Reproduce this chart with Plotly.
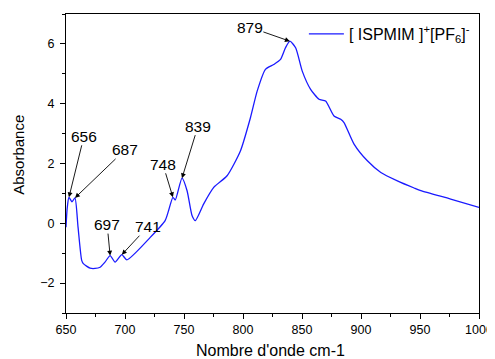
import plotly.graph_objects as go

wavenumber = [650, 651, 652.5, 655.1, 657.6, 660.2, 663.3, 664.7, 670.4, 674.6, 678.9, 683.0,
              687.4, 691.6, 697.3, 701.6, 721.4, 734.0, 736.9, 740.6, 742.6, 748.3, 752.6,
              756.8, 759.6, 766.7, 775.2, 786.5, 797.8, 806.3, 812.0, 819.0, 826.0, 831.8,
              836.0, 839.7, 844.6, 850.2, 857.3, 864.4, 870.0, 877.1, 882.8, 885.6, 894.1,
              905.4, 916.8, 930.8, 945.0, 950.7, 976.0, 1000.0]
absorbance = [-0.13, 0.5, 0.87, 0.72, 0.85, -0.13, -1.24, -1.35, -1.5, -1.51, -1.47, -1.3,
              -1.08, -1.3, -1.05, -1.22, -0.47, 0.09, 0.42, 0.87, 0.78, 1.51, 1.09,
              0.26, 0.09, 0.65, 1.2, 1.59, 2.42, 3.53, 4.42, 5.15, 5.31, 5.48,
              5.87, 6.09, 5.87, 5.09, 4.48, 4.15, 4.09, 3.59, 3.48, 3.37, 2.65,
              2.09, 1.7, 1.42, 1.18, 1.09, 0.81, 0.53]

series_name = "[ ISPMIM ]<sup>+</sup>[PF<sub>6</sub>]<sup>-</sup>"
x_title = "Nombre d'onde cm-1"
y_title = "Absorbance"

peak_labels = ["656", "687", "697", "741", "748", "839", "879"]
peak_x = [652.5, 657.6, 687.4, 697.3, 740.6, 748.3, 839.7]
peak_y = [0.87, 0.85, -1.08, -1.05, 0.87, 1.51, 6.09]
label_dx = [15, 50, -3, 26, -10, 16, -40]
label_dy = [-61, -48, -31, -28, -33, -52, -14]

font_family = "Arial, Liberation Sans, sans-serif"

fig = go.Figure()
fig.add_trace(go.Scatter(
    x=wavenumber, y=absorbance, mode="lines", name=series_name,
    line=dict(color="#1a1aff", width=1.3, shape="spline", smoothing=0.6),
))

for lab, px, py, dx, dy in zip(peak_labels, peak_x, peak_y, label_dx, label_dy):
    fig.add_annotation(
        x=px, y=py, text=lab, showarrow=True, ax=dx, ay=dy,
        arrowhead=2, arrowsize=1.1, arrowwidth=0.9, arrowcolor="black",
        font=dict(size=15.5, color="black", family=font_family),
        borderpad=0,
    )

fig.add_annotation(x=0.496, y=-0.124, xref="paper", yref="paper", text=x_title,
                   showarrow=False, xanchor="center", yanchor="middle",
                   font=dict(size=16, color="black", family=font_family))
fig.add_annotation(x=-0.117, y=0.528, xref="paper", yref="paper", text=y_title,
                   showarrow=False, xanchor="center", yanchor="middle", textangle=-90,
                   font=dict(size=15, color="black", family=font_family))

# page body has an 8px margin, so the figure is offset by 8px
fig.update_layout(
    width=487, height=351,
    margin=dict(l=58, r=16, t=6, b=46, autoexpand=False),
    paper_bgcolor="white", plot_bgcolor="white",
    font=dict(family=font_family, color="black", size=12.5),
    showlegend=True,
    legend=dict(x=0.576, y=0.99, xanchor="left", yanchor="top",
                bgcolor="rgba(0,0,0,0)", font=dict(size=16),
                itemwidth=35),
    xaxis=dict(
        range=[650, 1000], tick0=650, dtick=50, ticks="outside", ticklen=5,
        tickcolor="black", showline=True, linecolor="black", linewidth=1,
        mirror=True, showgrid=False, zeroline=False, automargin=False,
        ticklabeloverflow="allow",
        minor=dict(dtick=25, ticks="outside", ticklen=3, tickcolor="black", showgrid=False),
        tickfont=dict(size=12.5),
    ),
    yaxis=dict(
        range=[-3, 7], tick0=0, dtick=2, ticks="outside", ticklen=5,
        tickcolor="black", showline=True, linecolor="black", linewidth=1,
        mirror=True, showgrid=False, zeroline=False, automargin=False,
        ticklabelstandoff=3,
        minor=dict(dtick=1, ticks="outside", ticklen=3, tickcolor="black", showgrid=False),
        tickfont=dict(size=12.5),
    ),
)

fig.write_html("out.html")
